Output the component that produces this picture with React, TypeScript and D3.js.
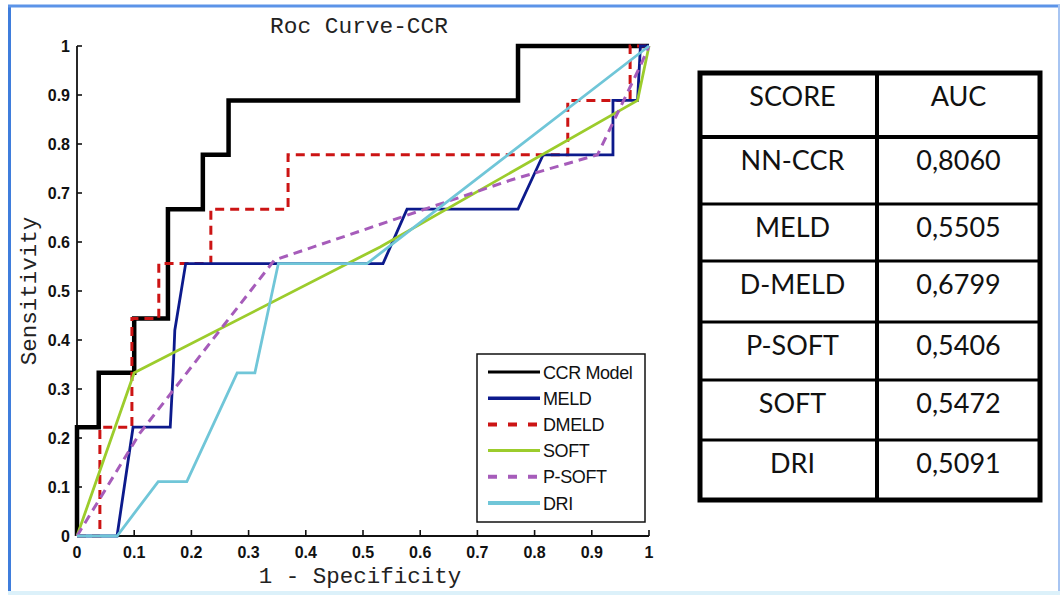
import React from "react";
import * as d3 from "d3";

type Pt = [number, number];

// ROC points (1 - specificity, sensitivity) for each score
const ccrModel: Pt[] = [
  [0, 0], [0, 0.222], [0.038, 0.222], [0.038, 0.333], [0.1, 0.333], [0.1, 0.444],
  [0.159, 0.444], [0.159, 0.667], [0.22, 0.667], [0.22, 0.778], [0.265, 0.778],
  [0.265, 0.889], [0.771, 0.889], [0.771, 1], [1, 1],
];
const meld: Pt[] = [
  [0, 0], [0.07, 0], [0.098, 0.222], [0.163, 0.222], [0.168, 0.333], [0.171, 0.42],
  [0.19, 0.556], [0.535, 0.556], [0.577, 0.667], [0.771, 0.667], [0.815, 0.778],
  [0.937, 0.778], [0.937, 0.889], [0.98, 0.889], [0.985, 1], [1, 1],
];
const dmeld: Pt[] = [
  [0, 0], [0.04, 0], [0.04, 0.222], [0.096, 0.222], [0.096, 0.444], [0.143, 0.444],
  [0.143, 0.556], [0.234, 0.556], [0.234, 0.667], [0.369, 0.667], [0.369, 0.778],
  [0.858, 0.778], [0.858, 0.889], [0.967, 0.889], [0.967, 1], [1, 1],
];
const soft: Pt[] = [
  [0, 0], [0.1, 0.333], [0.53, 0.59], [0.98, 0.889], [1, 1],
];
const pSoft: Pt[] = [
  [0, 0], [0.11, 0.21], [0.21, 0.36], [0.345, 0.563], [0.76, 0.727], [0.91, 0.778],
  [0.985, 0.96], [1, 1],
];
const dri: Pt[] = [
  [0, 0], [0.07, 0], [0.142, 0.111], [0.192, 0.111], [0.28, 0.333], [0.311, 0.333],
  [0.352, 0.556], [0.507, 0.556], [1, 1],
];

const axisTicks = [0, 0.1, 0.2, 0.3, 0.4, 0.5, 0.6, 0.7, 0.8, 0.9, 1];

// AUC summary table
const tableHeader = ["SCORE", "AUC"];
const scoreNames = ["NN-CCR", "MELD", "D-MELD", "P-SOFT", "SOFT", "DRI"];
const aucValues = ["0,8060", "0,5505", "0,6799", "0,5406", "0,5472", "0,5091"];

const seriesStyles = [
  { key: "CCR Model", data: ccrModel, color: "#000000", width: 4.5, dash: "", lw: 3 },
  { key: "MELD", data: meld, color: "#0c1a8c", width: 2.8, dash: "", lw: 3.5 },
  { key: "DMELD", data: dmeld, color: "#cc1414", width: 3, dash: "9,6", lw: 4 },
  { key: "SOFT", data: soft, color: "#9ccc2c", width: 2.8, dash: "", lw: 3 },
  { key: "P-SOFT", data: pSoft, color: "#a65cba", width: 3, dash: "9,6", lw: 4 },
  { key: "DRI", data: dri, color: "#70c6d8", width: 2.8, dash: "", lw: 4 },
];
const drawOrder = ["CCR Model", "DMELD", "MELD", "SOFT", "P-SOFT", "DRI"];

const W = 1061;
const H = 596;
const plot = { left: 77, right: 649, top: 46, bottom: 536 };
const table = { left: 700, right: 1040, mid: 877 };
const rowEdges = [73, 137, 204, 261, 322, 380, 440, 500];

export default function App() {
  const x = d3.scaleLinear().domain([0, 1]).range([plot.left, plot.right]);
  const y = d3.scaleLinear().domain([0, 1]).range([plot.bottom, plot.top]);
  const line = d3.line<Pt>().x((d) => x(d[0])).y((d) => y(d[1]));
  const fmt = d3.format("~g");
  const tickFont = "'Liberation Sans', Arial, sans-serif";
  const monoFont = "'Courier New', 'Liberation Mono', monospace";
  const tableFont = "Lato, 'Open Sans', sans-serif";

  const legend = { left: 477, top: 354, right: 645, bottom: 522 };
  const legendY = d3.scalePoint<string>()
    .domain(seriesStyles.map((s) => s.key))
    .range([372, 503]);

  return (
    <svg
      width={W}
      height={H}
      style={{ position: "fixed", left: 0, top: 0, background: "#fff" }}
    >
      <rect x={0} y={0} width={W} height={H} fill="#ffffff" />
      {/* outer frame */}
      <line x1={9.5} y1={5} x2={9.5} y2={594} stroke="#3f7ddc" strokeWidth={3} />
      <line x1={8} y1={6} x2={1060} y2={6} stroke="#5c94e8" strokeWidth={3} />
      <line x1={1059} y1={5} x2={1059} y2={594} stroke="#a8c5f2" strokeWidth={2} />
      <line x1={8} y1={593} x2={1060} y2={593} stroke="#dcf1fa" strokeWidth={4} />

      {/* title */}
      <text x={359} y={33} textAnchor="middle" fontFamily={monoFont} fontSize={22.8} fill="#222">
        Roc Curve-CCR
      </text>

      {/* axes */}
      <line x1={x(0)} y1={y(0)} x2={x(0)} y2={y(1)} stroke="#111" strokeWidth={1.8} />
      <line x1={x(0)} y1={y(0)} x2={x(1)} y2={y(0)} stroke="#111" strokeWidth={1.8} />
      {axisTicks.map((t) => (
        <g key={"xt" + t}>
          <line x1={x(t)} x2={x(t)} y1={y(0)} y2={y(0) - 6} stroke="#111" strokeWidth={1.6} />
          <text
            x={x(t)}
            y={y(0) + 22}
            textAnchor="middle"
            fontFamily={tickFont}
            fontWeight="bold"
            fontSize={16}
            fill="#111"
          >
            {fmt(t)}
          </text>
        </g>
      ))}
      {axisTicks.map((t) => (
        <g key={"yt" + t}>
          <line x1={x(0)} x2={x(0) + 5} y1={y(t)} y2={y(t)} stroke="#111" strokeWidth={1.6} />
          <text
            x={x(0) - 7}
            y={y(t) + 6}
            textAnchor="end"
            fontFamily={tickFont}
            fontWeight="bold"
            fontSize={16}
            fill="#111"
          >
            {fmt(t)}
          </text>
        </g>
      ))}
      <text x={360} y={583} textAnchor="middle" fontFamily={monoFont} fontSize={22.5} fill="#222">
        1 - Specificity
      </text>
      <text
        transform="translate(36,291) rotate(-90)"
        textAnchor="middle"
        fontFamily={monoFont}
        fontSize={22.5}
        fill="#222"
      >
        Sensitivity
      </text>

      {/* ROC curves */}
      {drawOrder.map((k) => {
        const s = seriesStyles.find((d) => d.key === k)!;
        return (
          <path
            key={k}
            d={line(s.data) || ""}
            fill="none"
            stroke={s.color}
            strokeWidth={s.width}
            strokeDasharray={s.dash || undefined}
            strokeLinejoin="miter"
          />
        );
      })}

      {/* legend */}
      <rect
        x={legend.left}
        y={legend.top}
        width={legend.right - legend.left}
        height={legend.bottom - legend.top}
        fill="#fff"
        stroke="#111"
        strokeWidth={1.5}
      />
      {seriesStyles.map((s) => (
        <g key={"lg" + s.key}>
          <line
            x1={488}
            x2={540}
            y1={legendY(s.key)!}
            y2={legendY(s.key)!}
            stroke={s.color}
            strokeWidth={s.lw}
            strokeDasharray={s.dash ? "9,11" : undefined}
          />
          <text
            x={543}
            y={legendY(s.key)! + 6.5}
            fontFamily={tickFont}
            fontSize={18}
            letterSpacing={-0.4}
            fill="#111"
          >
            {s.key}
          </text>
        </g>
      ))}

      {/* AUC table */}
      <rect
        x={table.left}
        y={rowEdges[0]}
        width={table.right - table.left}
        height={rowEdges[rowEdges.length - 1] - rowEdges[0]}
        fill="#fff"
        stroke="#000"
        strokeWidth={5}
      />
      <line x1={table.mid} x2={table.mid} y1={rowEdges[0]} y2={rowEdges[rowEdges.length - 1]} stroke="#000" strokeWidth={4} />
      {rowEdges.slice(1, -1).map((e, i) => (
        <line key={"re" + i} x1={table.left} x2={table.right} y1={e} y2={e} stroke="#000" strokeWidth={i === 0 ? 4 : 3} />
      ))}
      {[tableHeader, ...scoreNames.map((n, i) => [n, aucValues[i]])].map((row, i) => (
        <g key={"row" + i}>
          <text
            x={(table.left + table.mid) / 2 + 4}
            y={rowEdges[i] + 33}
            textAnchor="middle"
            fontFamily={tableFont}
            fontSize={27}
            fill="#111"
          >
            {row[0]}
          </text>
          <text
            x={(table.mid + table.right) / 2}
            y={rowEdges[i] + 33}
            textAnchor="middle"
            fontFamily={tableFont}
            fontSize={27}
            fill="#111"
          >
            {row[1]}
          </text>
        </g>
      ))}
    </svg>
  );
}
